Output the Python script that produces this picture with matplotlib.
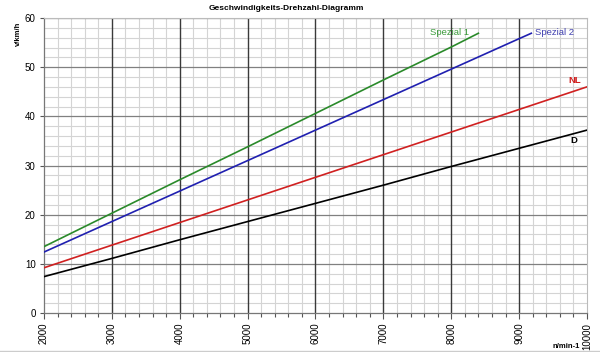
import matplotlib
matplotlib.use("Agg")
import matplotlib.pyplot as plt
import numpy as np
from matplotlib.ticker import MultipleLocator

# Werte (n in 1/min, v in km/h)
n_spezial1 = [2000, 3000, 4000, 5000, 6000, 7000, 8000, 8400]
v_spezial1 = [13.5, 20.3, 27.1, 33.8, 40.6, 47.4, 54.1, 56.9]

n_spezial2 = [2000, 3000, 4000, 5000, 6000, 7000, 8000, 9000, 9180]
v_spezial2 = [12.4, 18.6, 24.8, 31.0, 37.2, 43.4, 49.6, 55.8, 56.9]

n_nl = [2000, 3000, 4000, 5000, 6000, 7000, 8000, 9000, 10000]
v_nl = [9.2, 13.8, 18.4, 23.0, 27.6, 32.2, 36.8, 41.4, 46.0]

n_d = [2000, 3000, 4000, 5000, 6000, 7000, 8000, 9000, 10000]
v_d = [7.4, 11.1, 14.9, 18.6, 22.3, 26.0, 29.8, 33.5, 37.2]

x_ticks = [2000, 3000, 4000, 5000, 6000, 7000, 8000, 9000, 10000]
y_ticks = [0, 10, 20, 30, 40, 50, 60]

plt.rcParams['font.family'] = ['Liberation Sans', 'DejaVu Sans']

fig = plt.figure(figsize=(6, 3.52), dpi=100)
ax = fig.add_axes([0.0733, 0.1108, 0.905, 0.838])

ax.set_xlim(2000, 10000)
ax.set_ylim(0, 60)

# Gitter
for x in np.arange(2000, 10001, 200):
    if x % 1000 != 0:
        ax.axvline(x, color='#d4d4d4', lw=0.8, zorder=0)
for y in np.arange(0, 61, 2):
    if y % 10 != 0:
        ax.axhline(y, color='#d4d4d4', lw=0.8, zorder=0)
for y in y_ticks[1:]:
    ax.axhline(y, color='#808080', lw=0.9, zorder=1)
for x in x_ticks[1:-1]:
    ax.axvline(x, color='#3a3a3a', lw=1.0, zorder=1)

ax.plot(n_spezial1, v_spezial1, color='#2a8a2a', lw=1.2, zorder=3)
ax.plot(n_spezial2, v_spezial2, color='#2020b0', lw=1.2, zorder=3)
ax.plot(n_nl, v_nl, color='#d02020', lw=1.2, zorder=3)
ax.plot(n_d, v_d, color='black', lw=1.2, zorder=3)

ax.text(7680, 57.0, 'Spezial 1', color='#3a9a3a', fontsize=6.8, va='center')
ax.text(9230, 57.0, 'Spezial 2', color='#4040b0', fontsize=6.8, va='center')
ax.text(9720, 47.3, 'NL', color='#d02020', fontsize=6.8, fontweight='bold', va='center')
ax.text(9760, 35.0, 'D', color='black', fontsize=6.8, fontweight='bold', va='center')

ax.set_xticks(x_ticks)
ax.set_xticklabels([str(x) for x in x_ticks], rotation=90, fontsize=7)
ax.xaxis.set_minor_locator(MultipleLocator(200))
ax.set_yticks(y_ticks)
ax.set_yticklabels([str(y) for y in y_ticks], fontsize=7)
ax.tick_params(axis='x', which='major', length=4, width=0.8, color='#555555', pad=3)
ax.tick_params(axis='x', which='minor', length=3, width=0.8, color='#555555')
ax.tick_params(axis='y', which='major', length=3, width=0.8, color='#555555', pad=3)

for side in ['left', 'bottom']:
    ax.spines[side].set_color('#777777')
    ax.spines[side].set_linewidth(0.9)
for side in ['top', 'right']:
    ax.spines[side].set_color('#bbbbbb')
    ax.spines[side].set_linewidth(0.8)

fig.text(0.478, 0.977, 'Geschwindigkeits-Drehzahl-Diagramm', ha='center', va='center',
         fontsize=6, fontweight='bold')
fig.text(0.03, 0.905, 'v/km/h', rotation=90, ha='center', va='center',
         fontsize=5.5, fontweight='bold')
fig.text(0.943, 0.017, 'n/min-1', ha='center', va='center', fontsize=5.5, fontweight='bold')

fig.add_artist(plt.Line2D([0, 1], [0.004, 0.004], color='#cccccc', lw=1.0))

fig.savefig('out.png', dpi=100)
